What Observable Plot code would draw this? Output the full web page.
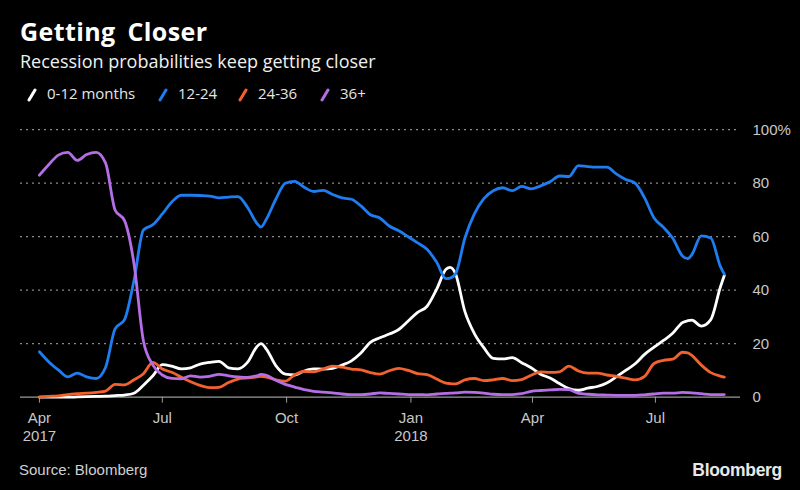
<!DOCTYPE html>
<html>
<head>
<meta charset="utf-8">
<script src="https://cdn.jsdelivr.net/npm/d3@7"></script>
<script src="https://cdn.jsdelivr.net/npm/@observablehq/plot@0.6"></script>
<style>
  html, body { margin: 0; padding: 0; background: #000; }
  body { width: 800px; height: 490px; position: relative; overflow: hidden; color: #fff; font-family: "Open Sans", sans-serif; }
  .abs { position: absolute; white-space: nowrap; }
  #title { left: 20px; top: 19px; font-size: 25px; line-height: 25px; font-weight: 700; word-spacing: 5px; letter-spacing: 0.4px; }
  #subtitle { left: 20px; top: 52px; font-size: 18px; line-height: 18px; color: #f0f0f0; }
  .leg { top: 86px; font-size: 15px; line-height: 15px; color: #e6e6e6; }
  .sw { position: absolute; top: 88px; }
  #chart { position: absolute; left: 0; top: 110px; }
  #source { left: 19px; top: 462px; font-family: "Liberation Sans", sans-serif; font-size: 15px; line-height: 15px; color: #d0d0d0; }
  #logo { right: 18px; top: 462px; font-family: "Liberation Sans", sans-serif; font-weight: 700; font-size: 17.5px; line-height: 17.5px; color: #e8e8e8; letter-spacing: -0.3px; }
</style>
</head>
<body>
<div id="title" class="abs">Getting Closer</div>
<div id="subtitle" class="abs">Recession probabilities keep getting closer</div>
<div id="legend"></div>
<div id="chart"></div>
<div id="source" class="abs">Source: Bloomberg</div>
<div id="logo" class="abs">Bloomberg</div>
<script>
// ---- data (weekly readings, % probability) ----
const dates = [
  "2017-04-01","2017-04-08","2017-04-15","2017-04-22","2017-04-29","2017-05-06","2017-05-13","2017-05-20","2017-05-27","2017-06-03",
  "2017-06-10","2017-06-17","2017-06-24","2017-07-01","2017-07-08","2017-07-15","2017-07-22","2017-07-29",
  "2017-08-05","2017-08-12","2017-08-19","2017-08-26","2017-09-02","2017-09-09","2017-09-12","2017-09-16","2017-09-23","2017-09-30",
  "2017-10-07","2017-10-14","2017-10-21","2017-10-28","2017-11-04","2017-11-11","2017-11-18","2017-11-25","2017-12-02",
  "2017-12-09","2017-12-16","2017-12-23","2017-12-30","2018-01-06","2018-01-13","2018-01-20","2018-01-27","2018-01-30","2018-02-03",
  "2018-02-10","2018-02-17","2018-02-24","2018-03-03","2018-03-10","2018-03-17","2018-03-24","2018-03-31","2018-04-07","2018-04-14",
  "2018-04-21","2018-04-28","2018-05-05","2018-05-12","2018-05-19","2018-05-26","2018-06-02","2018-06-09","2018-06-16","2018-06-23",
  "2018-06-30","2018-07-07","2018-07-14","2018-07-21","2018-07-25","2018-07-28","2018-08-04","2018-08-11","2018-08-18","2018-08-21"
];
const m0_12 = [
  0,0,0,0,0.1,0.2,0.3,0.4,0.6,0.8,
  1.5,4.5,8,12.2,11.6,10.6,11,12.4,
  13,13.4,11,10.6,13,18.9,20,18,11.8,8.6,
  8.3,9.8,10.6,10.5,10.8,12,13.6,16.5,20.5,
  22.2,23.6,25.3,28.5,31.7,34,40.3,47.8,48.5,46.2,
  32,23.8,18.5,14.5,14.3,14.8,12.9,11,8.6,7.2,
  5.1,3.2,2.6,3.4,4,5.3,7.6,10,12.5,16,
  18.7,21.2,24,27.9,28.6,28.8,26.6,29,41,45.5
];
const m12_24 = [
  17,13.2,10.2,7.6,9,7.6,7,11.2,25.5,29,
  43.6,62.5,64.5,68.5,73,75.5,75.5,75.4,
  75.2,74.5,74.8,75,71,65,63.6,66.5,74,80,
  80.7,78.5,76.9,77.3,75.8,74.5,74,71.5,68.2,
  67,64,62.2,60,57.7,55.3,50.5,44.3,44.5,46,
  59.5,68.5,74.2,77.2,78.3,77.2,78.8,77.9,79,80.5,
  82.7,82.5,86.6,86.2,86,86,83.5,81.4,80,74.5,
  67,63.5,59.3,52.8,51.8,53.3,60.3,59.5,49,46
];
const m24_36 = [
  0,0.3,0.5,1,1.3,1.5,1.8,2.3,4.8,4.6,
  6.5,8.8,13,10.5,9.3,7.5,5.8,4.4,
  3.6,3.7,5.5,6.8,7.2,7.6,7.8,7.5,6.5,6,
  8.4,9.6,9.5,10.5,11.6,11.2,10.5,10.2,9.2,
  8.6,9.9,10.8,10,8.8,8.4,6.8,5.3,5.1,5,
  6.5,7,6.2,6.5,7,6.2,6.6,8.2,9.5,9.3,
  9.5,11.6,9.8,9,9,8.3,7.8,7.1,6.5,7.8,
  12.6,13.8,14.2,16.8,16.6,15.6,12,9.2,7.9,7.5
];
const m36plus = [
  83,87,90.5,91.5,88.5,90.7,91.5,87.5,70,66,
  50,21,12,8.3,7,6.9,8,7.5,
  7.8,8.5,8,7.6,7.4,8,8.5,8.2,6.3,4.8,
  3.8,2.8,2.2,1.9,1.6,1.2,1,1,1.2,
  1.6,1.4,1.2,1,1,0.9,1.2,1.4,1.5,1.6,
  1.9,1.8,1.5,1.1,1,1,1.3,2.2,2.5,2.7,
  2.9,2.8,1.4,1.1,0.9,0.8,0.7,0.7,0.7,0.9,
  1.2,1.5,1.5,1.8,1.7,1.6,1.3,1,1,1
];
const seriesNames = ["0-12 months", "12-24", "24-36", "36+"];
const seriesColors = ["#ffffff", "#1e7df0", "#f2622e", "#b56ee6"];
const seriesValues = [m0_12, m12_24, m24_36, m36plus];
const xTicks = ["2017-04-01","2017-07-01","2017-10-01","2018-01-01","2018-04-01","2018-07-01"];
const yTicks = [0, 20, 40, 60, 80, 100];
const monthNames = ["Jan","Feb","Mar","Apr","May","Jun","Jul","Aug","Sep","Oct","Nov","Dec"];

// ---- legend ----
const legendX = [[29, 47], [160, 178], [240, 258], [322, 340]];
const legend = document.getElementById("legend");
seriesNames.forEach((name, i) => {
  const sw = document.createElementNS("http://www.w3.org/2000/svg", "svg");
  sw.setAttribute("width", 10); sw.setAttribute("height", 14);
  sw.setAttribute("class", "sw");
  sw.style.left = (legendX[i][0] - 2) + "px";
  sw.innerHTML = `<line x1="2" y1="12" x2="8" y2="2" stroke="${seriesColors[i]}" stroke-width="3" stroke-linecap="round"/>`;
  legend.appendChild(sw);
  const t = document.createElement("div");
  t.className = "abs leg";
  t.style.left = legendX[i][1] + "px";
  t.textContent = name;
  legend.appendChild(t);
});

// ---- chart ----
const parse = d3.utcParse("%Y-%m-%d");
const data = [0, 1, 2, 3].flatMap(s => dates.map((d, i) => ({date: parse(d), value: seriesValues[s][i], series: seriesNames[s]})));

const chart = Plot.plot({
  width: 800,
  height: 340,
  marginTop: 19.2,
  marginBottom: 53.3,
  marginLeft: 20,
  marginRight: 60,
  style: {background: "transparent", color: "#c8c8c8", fontFamily: "'Liberation Sans', sans-serif", fontSize: "15px", overflow: "visible"},
  x: {type: "utc", domain: [parse("2017-03-18"), parse("2018-09-02")]},
  y: {domain: [0, 100]},
  color: {domain: seriesNames, range: seriesColors},
  marks: [
    Plot.gridY(yTicks.filter(d => d > 0), {stroke: "#8a8a8a", strokeOpacity: 1, strokeWidth: 1.3, strokeDasharray: "2,4"}),
    Plot.ruleY([0], {stroke: "#9a9a9a", strokeWidth: 1.2}),
    Plot.axisY(yTicks, {anchor: "right", label: null, tickSize: 0, tickPadding: 12, textAnchor: "start", fill: "#c8c8c8",
      tickFormat: d => d === 100 ? "100%" : String(d)}),
    Plot.axisX(xTicks.map(parse), {label: null, tickSize: 6, tickPadding: 6, stroke: "#9a9a9a", fill: "#c8c8c8", lineHeight: 1.25,
      tickFormat: (d, i) => monthNames[d.getUTCMonth()] + ((i === 0 || d.getUTCMonth() === 0) ? "\n" + d.getUTCFullYear() : "")}),
    Plot.line(data, {x: "date", y: "value", z: "series", stroke: "series", strokeWidth: 2.8, curve: "monotone-x"})
  ]
});
document.getElementById("chart").appendChild(chart);
</script>
</body>
</html>
